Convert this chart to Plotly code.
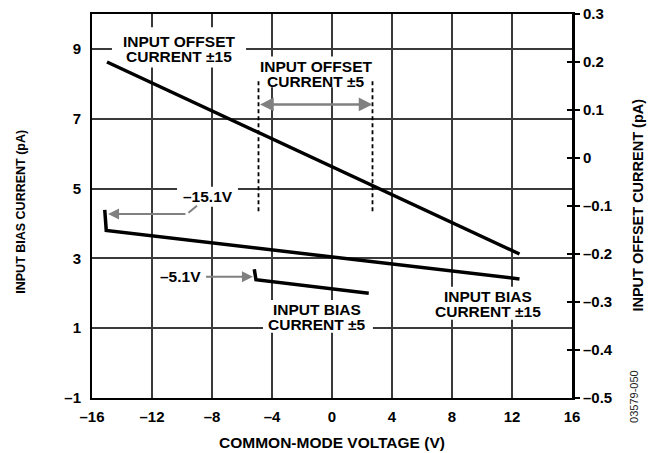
import plotly.graph_objects as go

# ---------------- data ----------------
x_ticks = [-16, -12, -8, -4, 0, 4, 8, 12, 16]
x_ticktext = ["–16", "–12", "–8", "–4", "0", "4", "8", "12", "16"]
y_left_ticks = [-1, 1, 3, 5, 7, 9]
y_left_ticktext = ["–1", "1", "3", "5", "7", "9"]
y_right_ticks = [-0.5, -0.4, -0.3, -0.2, -0.1, 0, 0.1, 0.2, 0.3]
y_right_ticktext = ["–0.5", "–0.4", "–0.3", "–0.2", "–0.1", "0", "0.1", "0.2", "0.3"]

# Input offset current, ±15 V supplies (right axis, pA)
offset15_v = [-15.0, 12.5]
offset15_i = [0.2, -0.2]
# Input bias current, ±15 V supplies (left axis, pA)
bias15_v = [-15.15, -15.05, 12.5]
bias15_i = [4.39, 3.80, 2.41]
# Input bias current, ±5 V supplies (left axis, pA)
bias5_v = [-5.18, -5.07, 2.45]
bias5_i = [2.69, 2.39, 2.00]
# Input offset current ±5 range markers (common-mode limits)
offset5_limits_v = [-4.9, 2.7]
offset5_marker_i = [4.35, 8.1]

FONT = "Liberation Sans, Arial, sans-serif"
BLACK = "#000000"
GRAY = "#808080"
GRID = "#3a3a3a"

fig = go.Figure()

fig.add_trace(go.Scatter(x=bias15_v, y=bias15_i, mode="lines",
                         line=dict(color=BLACK, width=3.5), yaxis="y", showlegend=False))
fig.add_trace(go.Scatter(x=bias5_v, y=bias5_i, mode="lines",
                         line=dict(color=BLACK, width=3.5), yaxis="y", showlegend=False))
fig.add_trace(go.Scatter(x=offset15_v, y=offset15_i, mode="lines",
                         line=dict(color=BLACK, width=3.5), yaxis="y2", showlegend=False))
for v in offset5_limits_v:
    fig.add_trace(go.Scatter(x=[v, v], y=offset5_marker_i, mode="lines",
                             line=dict(color=BLACK, width=1.8, dash="4px,3px"),
                             yaxis="y", showlegend=False))
# invisible trace to activate tick-mark axis
fig.add_trace(go.Scatter(x=[0], y=[0], mode="markers", marker=dict(opacity=0),
                         yaxis="y3", showlegend=False, hoverinfo="skip"))

tfont = dict(family=FONT, size=15, color=BLACK, weight="bold")
lfont = dict(family=FONT, size=15.5, color=BLACK, weight="bold")

# white backgrounds behind the labels (between grid and traces)
shapes = []
def box(x0, x1, y0, y1):
    shapes.append(dict(type="rect", xref="x", yref="y", x0=x0, x1=x1, y0=y0, y1=y1,
                       fillcolor="white", line=dict(width=0), layer="between"))

box(-14.67, -5.73, 8.47, 9.62)
box(-5.33, 3.2, 7.90, 8.78)
box(6.4, 14.33, 1.24, 2.19)
box(-4.6, 2.73, 0.87, 1.81)
box(-10.33, -6.27, 4.48, 5.05)

annotations = []

def label(text, x, y):
    annotations.append(dict(x=x, y=y, xref="x", yref="y", text=text, showarrow=False,
                            font=lfont, xanchor="center", yanchor="middle"))

label("INPUT OFFSET", -10.2, 9.22)
label("CURRENT ±15", -10.2, 8.79)
label("INPUT OFFSET", -1.1, 8.51)
label("CURRENT ±5", -1.1, 8.08)
label("INPUT BIAS", 10.4, 1.91)
label("CURRENT ±15", 10.4, 1.48)
label("INPUT BIAS", -0.97, 1.545)
label("CURRENT ±5", -0.97, 1.095)
label("–15.1V", -8.27, 4.77)

# –5.1V with arrow
annotations.append(dict(x=-5.27, y=2.47, xref="x", yref="y", ax=-10.13, ay=2.47,
                        axref="x", ayref="y", text="–5.1V", font=lfont,
                        showarrow=True, arrowhead=2, arrowsize=1.1, arrowwidth=2,
                        arrowcolor=GRAY, startstandoff=4))
# –15.1V arrow (horizontal part)
annotations.append(dict(x=-14.93, y=4.27, xref="x", yref="y", ax=-9.67, ay=4.27,
                        axref="x", ayref="y", text="", showarrow=True, arrowhead=2,
                        arrowsize=1.1, arrowwidth=2, arrowcolor=GRAY))
# –15.1V leader (diagonal part)
annotations.append(dict(x=-9.0, y=4.51, xref="x", yref="y", ax=-9.67, ay=4.27,
                        axref="x", ayref="y", text="", showarrow=True, arrowhead=0,
                        arrowwidth=2, arrowcolor=GRAY))
# double-headed arrow for offset ±5 range
annotations.append(dict(x=offset5_limits_v[1], y=7.41, xref="x", yref="y",
                        ax=offset5_limits_v[0], ay=7.41, axref="x", ayref="y",
                        text="", showarrow=True, arrowhead=2, startarrowhead=2,
                        arrowside="end+start", arrowsize=1.1, startarrowsize=1.1,
                        arrowwidth=2.5, arrowcolor=GRAY))

# axis titles
annotations.append(dict(x=0.5, y=-0.117, xref="paper", yref="paper",
                        text="COMMON-MODE VOLTAGE (V)", showarrow=False,
                        font=dict(family=FONT, size=15.5, color=BLACK, weight="bold"),
                        xanchor="center", yanchor="middle"))
annotations.append(dict(x=-0.148, y=0.485, xref="paper", yref="paper",
                        text="INPUT BIAS CURRENT (pA)", showarrow=False, textangle=-90,
                        font=dict(family=FONT, size=12.5, color=BLACK, weight="bold"),
                        xanchor="center", yanchor="middle"))
annotations.append(dict(x=1.1375, y=0.501, xref="paper", yref="paper",
                        text="INPUT OFFSET CURRENT (pA)", showarrow=False, textangle=-90,
                        font=dict(family=FONT, size=14.5, color=BLACK, weight="bold"),
                        xanchor="center", yanchor="middle"))
# figure id
annotations.append(dict(x=1.147, y=-0.07, xref="paper", yref="paper", text="03579-050",
                        showarrow=False, textangle=-90,
                        font=dict(family=FONT, size=11, color="#222222")))

# page body has an 8px margin: figure is 8px smaller so it fits the 660x453 window
fig.update_layout(
    width=652, height=445,
    margin=dict(l=84, r=88, t=6, b=55, autoexpand=False),
    paper_bgcolor="white", plot_bgcolor="white",
    font=dict(family=FONT, color=BLACK),
    showlegend=False,
    annotations=annotations,
    shapes=shapes,
    xaxis=dict(range=[-16, 16], tickvals=x_ticks, ticktext=x_ticktext,
               showgrid=True, gridcolor=GRID, gridwidth=1.5, zeroline=False,
               showline=True, linecolor=BLACK, linewidth=2, mirror=True,
               ticks="", tickfont=tfont, ticklabelstandoff=4, automargin=False,
               ticklabeloverflow="allow"),
    yaxis=dict(range=[-1, 10], tickvals=y_left_ticks, ticktext=y_left_ticktext,
               showgrid=True, gridcolor=GRID, gridwidth=1.5, zeroline=False,
               showline=True, linecolor=BLACK, linewidth=2,
               ticks="", tickfont=tfont, ticklabelstandoff=6, automargin=False,
               ticklabeloverflow="allow"),
    yaxis2=dict(range=[-0.5, 0.3], tickvals=y_right_ticks, ticktext=y_right_ticktext,
                overlaying="y", side="right", anchor="x",
                showgrid=False, zeroline=False,
                showline=True, linecolor=BLACK, linewidth=3,
                ticks="outside", ticklen=5, tickwidth=2, tickcolor=BLACK,
                tickfont=tfont, ticklabelstandoff=0, automargin=False,
                ticklabeloverflow="allow"),
    yaxis3=dict(range=[-0.5, 0.3], tickvals=y_right_ticks, overlaying="y",
                side="right", anchor="x", showgrid=False, zeroline=False,
                showticklabels=False, ticks="inside", ticklen=5, tickwidth=2,
                tickcolor=BLACK, showline=False, automargin=False),
)

fig.write_html("out.html")
